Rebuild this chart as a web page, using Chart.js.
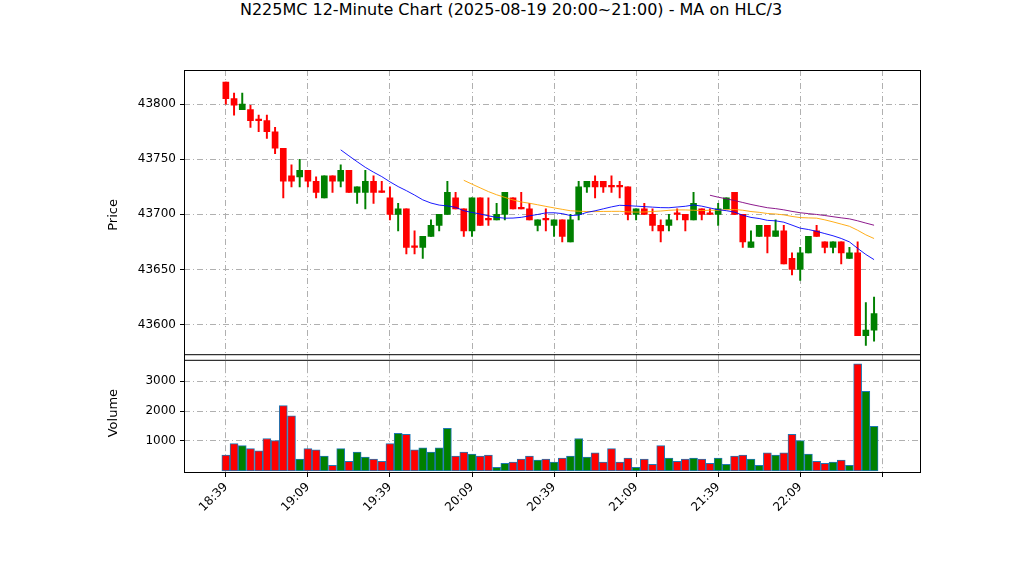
<!DOCTYPE html>
<html>
<head>
<meta charset="utf-8">
<script src="https://cdn.jsdelivr.net/npm/chart.js@4"></script>
<style>
  body { margin: 0; background: #fff; width: 1022px; height: 575px; position: relative; overflow: hidden; font-family: "DejaVu Sans", sans-serif; }
  #title { position: absolute; top: 0; left: 0; width: 1022px; text-align: center; font-size: 16px; line-height: 20px; }
  #pc { position: absolute; left: 0; top: 0; }
  #vc { position: absolute; left: 0; top: 343px; }
</style>
</head>
<body>
<div id="title">N225MC 12-Minute Chart (2025-08-19 20:00~21:00) - MA on HLC/3</div>
<canvas id="pc" width="1022" height="371"></canvas>
<canvas id="vc" width="1022" height="232"></canvas>
<script>
const opens  = [43820,43805,43795,43795,43786,43785,43775,43760,43735,43734,43740,43730,43715,43735,43730,43740,43720,43720,43730,43720.5,
                43715,43700,43705,43671,43670,43680,43690,43700,43715,43705,43685,43715,43696,43695,43700,43715,43706,43705,43690,43696,
                43690,43695,43675,43700,43725,43730,43730,43726,43726,43725,43700,43705,43700,43690,43690,43700.5,43700,43695,43705,43700.5,
                43700,43705,43720,43700,43670,43680,43690,43680,43685,43660,43650,43665,43685,43675,43670,43675,43660,43665,43590,43595];
const highs  = [43820,43810,43810,43799,43790,43790,43779,43760,43745,43750,43740,43734,43735,43735,43745,43740,43725,43740,43735,43730,
                43725,43710,43705,43685,43680,43695,43700,43730,43720,43705,43715,43715,43715,43710,43720,43715,43720,43710,43695,43705,
                43695,43695,43700,43730,43730,43735,43730,43735,43730,43725,43705,43710,43705,43695,43700,43705,43700,43720,43705,43705,
                43710,43715,43720,43700,43685,43690,43690,43695,43690,43665,43670,43680,43690,43675,43675,43675,43670,43675,43620,43625];
const lows   = [43800,43790,43795,43779,43775,43769,43755,43715,43725,43725,43725,43715,43715,43720,43725,43720,43710,43705,43710,43720,
                43695,43685,43664,43664,43660,43680,43685,43700,43705,43680,43680,43690,43690,43695,43695,43705,43705,43695,43685,43685,
                43680,43675,43675,43695,43720,43715,43720,43720,43715,43695,43695,43700,43685,43675,43685,43695,43685,43695,43695,43700,
                43690,43705,43700,43670,43670,43680,43665,43680,43655,43645,43640,43665,43680,43665,43665,43655,43660,43590,43581,43585];
const closes = [43805,43799,43800,43785,43785,43775,43760,43730,43730,43740,43730,43720,43735,43730,43740,43720,43725,43730,43720,43720,
                43700,43705,43670,43670,43680,43690,43700,43720,43705,43685,43715,43690,43695,43700,43720,43705,43705,43695,43695,43695,
                43695,43680,43695,43725,43730,43725,43725,43725,43725,43700,43705,43700,43690,43685,43695,43700,43695,43710,43700,43700,
                43705,43715,43700,43675,43675,43690,43680,43685,43655,43650,43665,43680,43680,43670,43675,43665,43665,43590,43595,43610];
const volumes = [530,910,840,740,670,1080,1010,2180,1840,390,740,700,495,185,740,320,630,460,390,320,
                 910,1250,1220,700,770,630,770,1420,495,630,560,495,530,115,250,290,390,495,355,390,
                 290,425,495,1080,460,600,290,740,290,425,115,390,220,840,425,320,390,425,390,250,
                 425,220,495,530,390,185,600,530,600,1220,1010,560,320,250,290,355,185,3580,2660,1490];
const tickLabels = ['18:39','19:09','19:39','20:09','20:39','21:09','21:39','22:09',''];
const maPeriods = [15, 30, 60];
const maColors = ['blue', 'orange', 'purple'];

const UP = '#008000', DOWN = '#ff0000';
const colors = opens.map((o, i) => closes[i] >= o ? UP : DOWN);
const hlc3 = highs.map((h, i) => (h + lows[i] + closes[i]) / 3);

function movingAverage(n) {
  const out = [];
  for (let i = n - 1; i < hlc3.length; i++) {
    let s = 0;
    for (let j = i - n + 1; j <= i; j++) s += hlc3[j];
    out.push({ x: i, y: s / n });
  }
  return out;
}

const X_MIN = -5.1, X_MAX = 84.6;
const DASH = [6, 3, 1, 3];
const gridStyle = { color: '#b0b0b0', lineWidth: 1 };
const noBorder = { display: false, dash: DASH };
const tickFont = { family: 'DejaVu Sans', size: 12 };
const titleFont = { family: 'DejaVu Sans', size: 13 };

const framePlugin = {
  id: 'frame',
  afterDraw(chart) {
    const a = chart.chartArea, c = chart.ctx;
    c.save();
    c.strokeStyle = '#000';
    c.lineWidth = 1;
    c.strokeRect(a.left + 0.5, a.top + 0.5, a.right - a.left, a.bottom - a.top);
    c.restore();
  }
};

function xTicks(scale) {
  scale.ticks = tickLabels.map((t, i) => ({ value: i * 10 }));
}

// price panel
const wickData = highs.map((h, i) => ({ x: i, y: [lows[i], h] }));
const bodyData = opens.map((o, i) => ({ x: i, y: [o, closes[i]] }));

const priceDatasets = [
  { type: 'bar', data: wickData, backgroundColor: colors, barThickness: 1.3, grouped: false, order: 3 },
  { type: 'bar', data: bodyData, backgroundColor: colors, barThickness: 6, minBarLength: 1.5, grouped: false, order: 2 }
];
maPeriods.forEach((p, k) => {
  priceDatasets.push({ type: 'line', data: movingAverage(p), borderColor: maColors[k], borderWidth: 0.9,
                       pointRadius: 0, fill: false, order: 1 });
});

new Chart(document.getElementById('pc'), {
  type: 'bar',
  data: { datasets: priceDatasets },
  options: {
    responsive: false, animation: false,
    layout: { padding: { left: 104, right: 102, top: 70, bottom: 0 } },
    plugins: { legend: { display: false }, tooltip: { enabled: false } },
    scales: {
      x: {
        type: 'linear', min: X_MIN, max: X_MAX, offset: false,
        afterBuildTicks: xTicks,
        ticks: { display: false },
        grid: Object.assign({ offset: false }, gridStyle), border: noBorder,
        afterFit(s) { s.height = 0; }
      },
      y: {
        min: 43568, max: 43831,
        afterBuildTicks(s) { s.ticks = [43600, 43650, 43700, 43750, 43800].map(v => ({ value: v })); },
        ticks: { color: '#000', font: tickFont, padding: 4, callback: v => String(v) },
        grid: Object.assign({ tickLength: 4, tickColor: '#000' }, gridStyle),
        border: noBorder,
        title: { display: true, text: 'Price', color: '#000', font: titleFont, padding: 2 },
        afterFit(s) { s.width = 80; }
      }
    }
  },
  plugins: [framePlugin]
});

// volume panel
new Chart(document.getElementById('vc'), {
  type: 'bar',
  data: {
    datasets: [{
      data: volumes.map((v, i) => ({ x: i, y: v })),
      backgroundColor: colors, borderColor: '#1f77b4', borderWidth: 1,
      barThickness: 8, borderSkipped: false
    }]
  },
  options: {
    responsive: false, animation: false,
    layout: { padding: { left: 104, right: 102, top: 0, bottom: 0 } },
    plugins: { legend: { display: false }, tooltip: { enabled: false } },
    scales: {
      x: {
        type: 'linear', min: X_MIN, max: X_MAX, offset: false,
        afterBuildTicks: xTicks,
        ticks: {
          color: '#000', font: tickFont, maxRotation: 45, minRotation: 45, autoSkip: false,
          callback: v => tickLabels[Math.round(v / 10)]
        },
        grid: Object.assign({ tickLength: 5, tickColor: '#000', offset: false }, gridStyle),
        border: noBorder,
        afterFit(s) { s.height = 103; }
      },
      y: {
        min: -40, max: 3900,
        afterBuildTicks(s) { s.ticks = [1000, 2000, 3000].map(v => ({ value: v })); },
        ticks: { color: '#000', font: tickFont, padding: 4, callback: v => String(v) },
        grid: Object.assign({ tickLength: 4, tickColor: '#000' }, gridStyle),
        border: noBorder,
        title: { display: true, text: 'Volume', color: '#000', font: titleFont, padding: 2 },
        afterFit(s) { s.width = 80; }
      }
    }
  },
  plugins: [framePlugin]
});
</script>
</body>
</html>
